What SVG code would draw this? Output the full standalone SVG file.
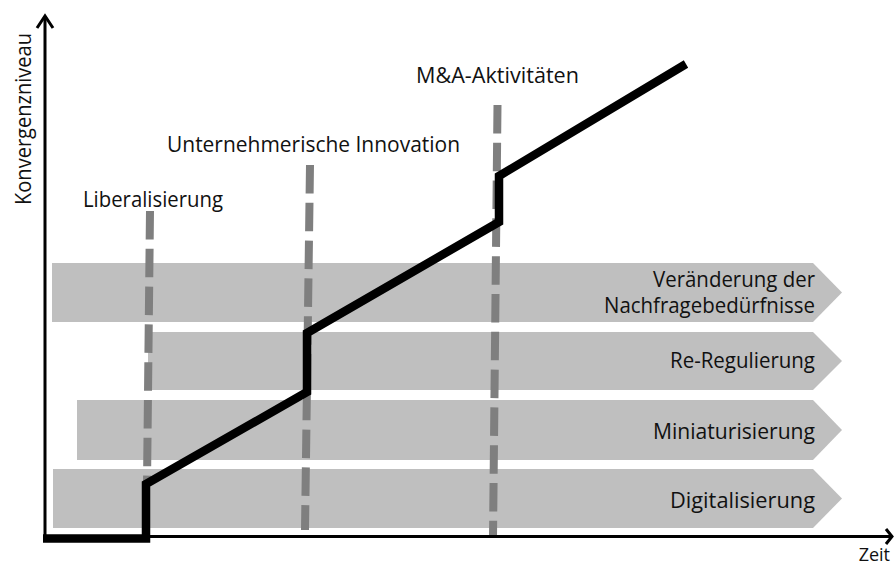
<svg xmlns="http://www.w3.org/2000/svg" width="895" height="569" viewBox="0 0 895 569">
<style>
text{font-family:"Open Sans","Liberation Sans",sans-serif;font-size:21px;fill:#111}
.band{fill:#bfbfbf}
.dash{fill:none;stroke:#7f7f7f;stroke-width:8;stroke-dasharray:28.5 9.3}
.axis{fill:none;stroke:#000;stroke-width:3}
.curve{fill:none;stroke:#000;stroke-width:8.5;stroke-linejoin:miter;stroke-linecap:butt}
.lbl{text-anchor:end}
</style>
<rect width="895" height="569" fill="#fff"/>
<g id="band-nachfrage">
<polygon class="band" points="52,263 813,263 842,292.5 813,322 52,322"/>
<text class="lbl" x="815" y="287" textLength="162" lengthAdjust="spacingAndGlyphs">Veränderung der</text>
<text class="lbl" x="815" y="313" textLength="211" lengthAdjust="spacingAndGlyphs">Nachfragebedürfnisse</text>
</g>
<g id="band-reregulierung">
<polygon class="band" points="148,332 813,332 842,361 813,390 148,390"/>
<text class="lbl" x="815" y="368" textLength="145" lengthAdjust="spacingAndGlyphs">Re-Regulierung</text>
</g>
<g id="band-miniaturisierung">
<polygon class="band" points="77,400 813,400 842,430 813,460 77,460"/>
<text class="lbl" x="815" y="439" textLength="162" lengthAdjust="spacingAndGlyphs">Miniaturisierung</text>
</g>
<g id="band-digitalisierung">
<polygon class="band" points="53,469 813,469 842,498.5 813,528 53,528"/>
<text class="lbl" x="815" y="508" textLength="145" lengthAdjust="spacingAndGlyphs">Digitalisierung</text>
</g>
<g id="events">
<g id="ev-liberalisierung">
<line class="dash" x1="150" y1="211" x2="147" y2="484"/>
<text x="83" y="207" textLength="140" lengthAdjust="spacingAndGlyphs">Liberalisierung</text>
</g>
<g id="ev-innovation">
<line class="dash" x1="310" y1="165" x2="305" y2="530"/>
<text x="167" y="152" textLength="293" lengthAdjust="spacingAndGlyphs">Unternehmerische Innovation</text>
</g>
<g id="ev-ma">
<line class="dash" x1="497.5" y1="105" x2="493" y2="537"/>
<text x="416" y="83" textLength="163" lengthAdjust="spacingAndGlyphs">M&amp;A-Aktivitäten</text>
</g>
</g>
<g id="connectors">
<polyline class="axis" points="45,537 45,16"/>
<polyline class="axis" points="37,28 45,16 53,28"/>
<polyline class="axis" points="43,536.5 892,536.5"/>
<polyline class="axis" points="886,529 892,536.5 886,544"/>
<polyline class="curve" points="43,538.5 146,538.5 146,484 307,392 307,333 499,222 499,176 686,64"/>
</g>
<g id="axis-labels">
<text transform="translate(31,119) rotate(-90)" text-anchor="middle" textLength="172" lengthAdjust="spacingAndGlyphs">Konvergenzniveau</text>
<text x="890" y="561" text-anchor="end" style="font-size:18px">Zeit</text>
</g>
</svg>
